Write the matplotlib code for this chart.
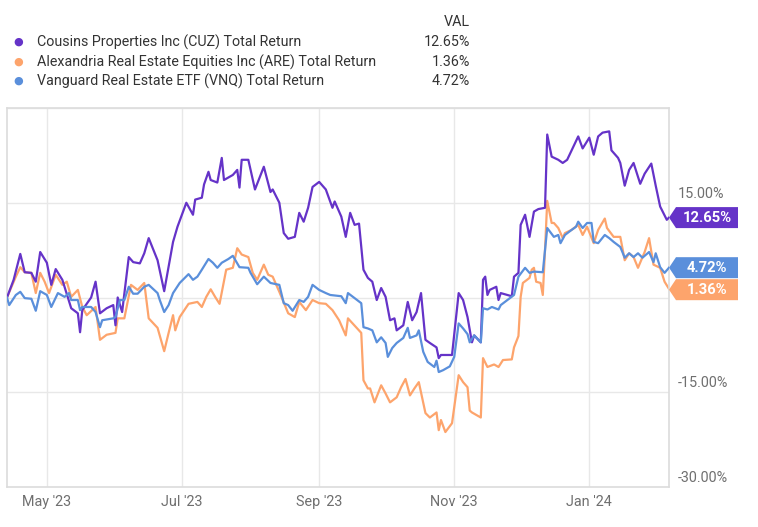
import datetime as dt
import matplotlib
matplotlib.use("Agg")
import matplotlib.pyplot as plt
from matplotlib.patches import Polygon
from matplotlib.transforms import IdentityTransform, ScaledTranslation

plt.rcParams['font.family'] = ['Roboto', 'DejaVu Sans']

# ---------------- data ----------------
start_date = dt.date(2023, 4, 13)

cuz_days = [0, 3, 6, 8, 11, 13, 15, 18, 20, 22, 25, 29, 32, 33, 34, 38, 40, 42, 45, 48,
            49, 50, 52, 55, 57, 60, 62, 64, 68, 71, 75, 77, 81, 84, 85, 88, 89, 91, 92, 95,
            97, 98, 102, 104, 105, 106, 109, 112, 116, 119, 120, 123, 125, 127, 130, 132, 134,
            136, 138, 141, 144, 147, 148, 151, 153, 155, 157, 159, 161, 163, 165, 167, 169, 171,
            173, 175, 176, 179, 181, 183, 185, 187, 189, 191, 194, 195, 196, 200, 201, 204, 206,
            208, 210, 211, 214, 215, 216, 217, 218, 221, 222, 223, 228, 229, 231, 232, 234, 236,
            238, 240, 243, 244, 246, 249, 251, 253, 256, 258, 260, 263, 265, 267, 269, 272, 273,
            276, 277, 279, 281, 283, 286, 288, 291, 293, 295, 298, 299]
cuz_vals = [0.0, 2.8, 6.9, 4.0, 3.9, 2.5, 7.2, 5.5, 2.0, 4.5, 2.8, -1.7, -2.5, -5.5, -2.0, 0.0,
            2.5, -2.5, -1.7, -1.2, -4.4, 0.0, -2.3, 6.4, 5.6, 5.4, 7.0, 9.4, 5.9, 1.0, 8.8, 11.2,
            15.0, 13.1, 15.5, 15.8, 17.9, 19.9, 18.6, 18.2, 22.1, 18.6, 19.4, 20.2, 17.4, 21.8,
            21.8, 17.1, 20.7, 16.7, 17.1, 15.0, 10.2, 9.3, 9.6, 13.4, 12.0, 14.2, 17.5, 18.3,
            17.1, 14.2, 15.2, 12.8, 9.6, 13.4, 11.5, 11.7, 4.4, 3.1, 2.5, -0.4, 1.5, 0.1, -3.6,
            -3.3, -5.2, -4.4, -0.7, -3.6, -2.3, 0.7, -6.7, -7.2, -7.9, -9.6, -9.1, -9.1, -9.1,
            0.7, -0.4, -3.1, -7.1, -6.0, -7.1, 2.8, 3.3, 0.4, 1.2, 1.7, -0.4, 0.7, 0.2, 3.3, 3.9,
            11.5, 13.1, 9.6, 13.6, 14.0, 14.2, 25.8, 22.3, 21.8, 21.3, 21.8, 24.0, 25.5, 23.6,
            25.3, 22.6, 25.5, 26.1, 26.3, 23.3, 22.1, 21.3, 17.7, 20.2, 21.3, 18.0, 19.6, 21.2,
            17.7, 14.4, 12.3, 12.65]

are_days = [0, 4, 6, 8, 11, 13, 15, 17, 19, 22, 25, 27, 29, 32, 34, 36, 40, 42, 45, 49, 50,
            53, 56, 59, 62, 64, 68, 71, 73, 75, 76, 78, 82, 86, 88, 90, 92, 94, 96, 99, 102,
            104, 106, 109, 111, 113, 116, 118, 120, 123, 127, 130, 132, 135, 138, 141, 144,
            147, 150, 153, 154, 159, 160, 161, 163, 164, 166, 169, 171, 173, 176, 178, 180,
            182, 184, 186, 189, 191, 194, 195, 196, 198, 201, 204, 206, 208, 209, 210, 214,
            215, 217, 220, 222, 224, 228, 229, 231, 232, 233, 236, 237, 238, 239, 241, 242,
            243, 244, 246, 247, 249, 251, 252, 255, 258, 260, 262, 265, 267, 270, 271, 274,
            277, 279, 281, 283, 285, 288, 290, 292, 295, 297, 299]
are_vals = [0.0, 3.3, 4.8, 4.0, 3.9, 0.7, 3.9, 2.5, 0.7, 3.6, 2.0, 2.5, 0.1, 1.2, -1.5, -2.8,
            -1.5, -6.7, -5.9, -5.6, -3.3, -3.3, 2.0, 1.2, 2.3, -3.3, -4.8, -8.5, -5.6, -2.8,
            -5.2, -3.1, -1.0, -0.7, -1.5, 0.1, 1.3, 0.1, -1.0, 4.4, 4.7, 7.8, 6.8, 6.4, 3.9,
            2.8, 5.2, 3.6, 3.3, 0.9, -2.5, -3.1, -0.7, -2.0, -0.4, -0.9, -1.0, -2.0, -3.6, -6.0,
            -3.3, -5.2, -5.6, -13.1, -14.4, -14.4, -16.6, -13.9, -15.2, -16.6, -15.8, -14.2,
            -12.9, -15.5, -14.4, -13.4, -18.3, -19.0, -18.2, -21.0, -19.4, -21.3, -19.9, -12.3,
            -13.4, -14.2, -17.9, -18.2, -19.0, -9.6, -11.0, -10.6, -11.0, -9.9, -9.8, -7.9,
            -6.1, 0.1, 2.3, 3.1, 4.4, 4.7, 2.5, 2.3, 0.4, 7.5, 15.3, 11.8, 11.8, 11.0, 9.4,
            10.2, 10.7, 11.5, 9.9, 11.2, 8.6, 10.7, 12.5, 11.0, 9.6, 9.6, 5.9, 7.0, 6.4, 4.7,
            7.2, 9.4, 5.2, 4.7, 2.5, 1.36]

vnq_days = [0, 1, 4, 6, 8, 11, 13, 15, 18, 20, 23, 26, 28, 29, 32, 33, 34, 38, 40, 42, 43,
            48, 49, 51, 53, 55, 57, 59, 62, 64, 68, 69, 71, 73, 75, 78, 82, 84, 86, 88, 91,
            93, 95, 97, 100, 102, 105, 109, 110, 113, 116, 119, 123, 125, 127, 129, 132, 134,
            136, 138, 141, 144, 146, 151, 153, 154, 157, 160, 161, 163, 165, 167, 169, 171,
            172, 174, 176, 179, 181, 182, 185, 186, 188, 190, 193, 194, 195, 197, 200, 202,
            204, 206, 208, 209, 211, 214, 215, 217, 219, 222, 223, 226, 229, 231, 234, 236,
            238, 242, 244, 247, 249, 250, 252, 255, 257, 258, 260, 262, 264, 265, 267, 270,
            272, 274, 277, 279, 281, 283, 285, 287, 290, 292, 293, 295, 297, 299]
vnq_vals = [0.0, -1.2, 0.4, 0.9, -0.1, -0.2, -2.1, 1.0, 0.4, -1.5, 0.7, 0.1, 0.7, -0.4, -0.4,
            -2.0, -1.5, -1.5, -2.3, -4.7, -3.6, -3.3, -3.1, -0.4, -0.4, 1.7, 0.6, 0.6, 1.7,
            2.0, 0.7, -0.4, -2.3, -1.2, 0.7, 2.3, 3.7, 2.8, 3.3, 4.4, 6.1, 5.5, 4.7, 5.5, 6.1,
            6.6, 4.8, 4.7, 3.9, 2.1, 3.3, 2.3, 2.0, -0.9, -1.2, -2.1, -0.4, -0.7, 0.1, 2.0,
            1.2, 0.7, 0.4, 0.2, -0.9, 0.7, -0.1, -0.9, -4.7, -4.9, -5.2, -7.1, -6.3, -7.2,
            -9.4, -8.0, -7.2, -6.4, -4.8, -6.4, -6.0, -5.2, -8.6, -10.2, -11.0, -10.0, -11.8,
            -11.5, -10.9, -9.4, -4.1, -4.9, -5.8, -7.1, -6.0, -7.1, -1.7, -1.9, -1.5, -1.9,
            -1.2, -0.4, 0.4, 3.3, 4.7, 3.9, 4.1, 4.0, 11.0, 9.6, 9.9, 8.6, 9.9, 10.7, 11.2,
            12.0, 11.0, 11.8, 11.8, 8.8, 8.6, 9.9, 9.4, 8.8, 8.0, 6.3, 7.0, 6.4, 7.0, 6.3, 7.2,
            5.6, 7.0, 4.8, 3.9, 4.72]

series_names = ["Cousins Properties Inc (CUZ) Total Return",
                "Alexandria Real Estate Equities Inc (ARE) Total Return",
                "Vanguard Real Estate ETF (VNQ) Total Return"]
last_labels = ["12.65%", "1.36%", "4.72%"]
colors = ["#6533c8", "#fda46c", "#5a8fdb"]

xtick_dates = [dt.date(2023, 5, 1), dt.date(2023, 7, 1), dt.date(2023, 9, 1),
               dt.date(2023, 11, 1), dt.date(2024, 1, 1)]
xtick_labels = ["May '23", "Jul '23", "Sep '23", "Nov '23", "Jan '24"]
ytick_vals = [-30, -15, 0, 15, 30]
ytick_labels = ["-30.00%", "-15.00%", "", "15.00%", ""]


def to_dates(days):
    return [start_date + dt.timedelta(days=d) for d in days]


# ---------------- figure ----------------
W, H = 758, 527
fig = plt.figure(figsize=(W / 100, H / 100), dpi=100)
ax = fig.add_axes([7 / W, 1 - 487 / H, (669 - 7) / W, (487 - 108) / H])

all_days = [cuz_days, are_days, vnq_days]
all_vals = [cuz_vals, are_vals, vnq_vals]
zorders = [3, 2, 4]
for d, v, c, z in zip(all_days, all_vals, colors, zorders):
    ax.plot(to_dates(d), v, color=c, lw=1.6, zorder=z, solid_joinstyle='round')

ax.set_xlim(start_date, start_date + dt.timedelta(days=299))
ax.set_ylim(-30, 30)

ax.set_xticks(xtick_dates)
ax.set_xticklabels(xtick_labels)
ax.set_yticks(ytick_vals)
ax.set_yticklabels(ytick_labels)
ax.yaxis.tick_right()
ax.tick_params(axis='both', length=0, labelsize=10.4, labelcolor='#6f6f6f')
ax.tick_params(axis='x', pad=6)
ax.tick_params(axis='y', pad=6)
offset = ScaledTranslation(0, 1.5 / 72, fig.dpi_scale_trans)
for lab in ax.get_yticklabels():
    lab.set_va('bottom')
    lab.set_transform(lab.get_transform() + offset)

ax.grid(True, color='#e8e8e8', lw=1.0, zorder=0)
for s in ax.spines.values():
    s.set_color('#dcdcdc')
    s.set_linewidth(1.2)

# end-value tags
fig.canvas.draw()
x_tip = ax.transAxes.transform((1, 0))[0]
last_vals = [cuz_vals[-1], are_vals[-1], vnq_vals[-1]]
ypix = [ax.transData.transform((0, v))[1] for v in last_vals]
# separate overlapping tags (ARE pushed below VNQ)
tag_h = 21
if ypix[2] - ypix[1] < tag_h + 1:
    ypix[1] = ypix[2] - (tag_h + 1)
for yp, lab, c in zip(ypix, last_labels, colors):
    body_l = x_tip + 7
    body_r = x_tip + 69
    pts = [(x_tip, yp), (body_l, yp + tag_h / 2), (body_r, yp + tag_h / 2),
           (body_r, yp - tag_h / 2), (body_l, yp - tag_h / 2)]
    fig.add_artist(Polygon(pts, closed=True, facecolor=c, edgecolor='none',
                           transform=IdentityTransform()))
    fig.text((body_l + body_r) / 2 / W, yp / H, lab, color='white', fontsize=10.6,
             fontweight='bold', ha='center', va='center')

# legend header
fs_leg = 10.3
fig.text(470 / W, 1 - 22 / H, "VAL", ha='right', va='center', fontsize=fs_leg, color='#333333')
leg_y = [42, 62, 81]
for y, name, val, c in zip(leg_y, series_names, last_labels, colors):
    fig.text(18 / W, 1 - y / H, "\u25CF", ha='center', va='center', fontsize=8, color=c)
    fig.text(37 / W, 1 - y / H, name, ha='left', va='center', fontsize=fs_leg, color='#333333')
    fig.text(470 / W, 1 - y / H, val, ha='right', va='center', fontsize=fs_leg, color='#333333')

fig.savefig("out.png", dpi=100)
